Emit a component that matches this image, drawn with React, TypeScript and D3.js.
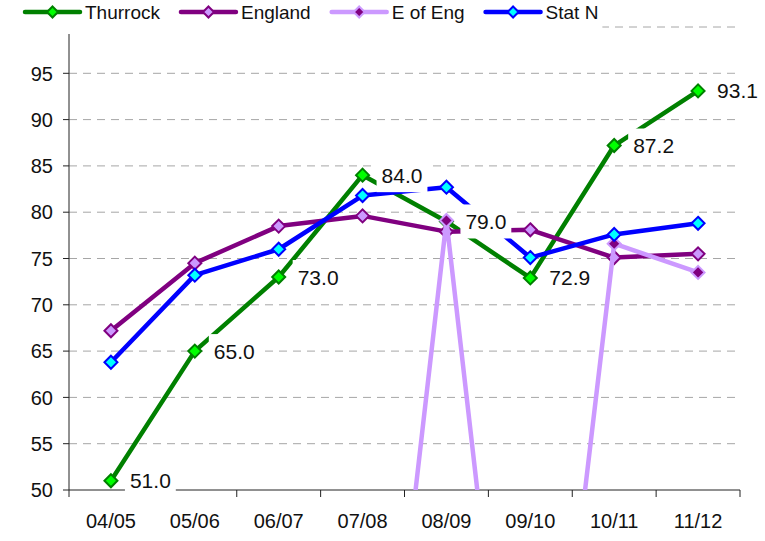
import * as d3 from "d3";

const categories = ["04/05", "05/06", "06/07", "07/08", "08/09", "09/10", "10/11", "11/12"];

const thurrock = [51.0, 65.0, 73.0, 84.0, 79.0, 72.9, 87.2, 93.1];
const england = [67.2, 74.5, 78.5, 79.6, 77.9, 78.1, 75.1, 75.5];
const eOfEng = [0, 0, 0, 0, 79.1, 0, 76.6, 73.5];
const statN = [63.8, 73.2, 76.0, 81.8, 82.7, 75.1, 77.6, 78.8];

const yTicks = [50, 55, 60, 65, 70, 75, 80, 85, 90, 95, 100];

type Series = {
  name: string;
  values: number[];
  line: string;
  fill: string;
  stroke: string;
};

const SERIES: Series[] = [
  { name: "Thurrock", values: thurrock, line: "#008000", fill: "#00FF00", stroke: "#008000" },
  { name: "England", values: england, line: "#800080", fill: "#CC99FF", stroke: "#800080" },
  { name: "E of Eng", values: eOfEng, line: "#CC99FF", fill: "#800080", stroke: "#CC99FF" },
  { name: "Stat N", values: statN, line: "#0000FF", fill: "#00FFFF", stroke: "#0000FF" },
];

const FONT = "'Liberation Sans', Arial, sans-serif";

const PLOT = { left: 69, right: 740, top: 27, bottom: 490 };

const LEGEND = {
  x: 25,
  y: 12,
  lineLen: 55,
  textGap: 5,
  itemGap: 21,
  fontSize: 19,
};

const LABEL = { fontSize: 21, dx: 14, padX: 5, height: 34 };

let ctx: CanvasRenderingContext2D | null = null;
function textWidth(s: string, size: number): number {
  if (!ctx) ctx = document.createElement("canvas").getContext("2d");
  if (!ctx) return s.length * size * 0.55;
  ctx.font = `${size}px 'Liberation Sans', Arial, sans-serif`;
  return ctx.measureText(s).width;
}

function diamond(r: number): string {
  return `M0,${-r}L${r},0L0,${r}L${-r},0Z`;
}

export default function App() {
  const x = d3.scaleBand<string>().domain(categories).range([PLOT.left, PLOT.right]);
  const y = d3.scaleLinear().domain([50, 100]).range([PLOT.bottom, PLOT.top]);
  const cx = (c: string) => (x(c) ?? 0) + x.bandwidth() / 2;

  const lineGen = d3
    .line<number>()
    .x((_, i) => cx(categories[i]))
    .y((d) => y(d));

  // legend item positions, based on text widths
  const legendItems: { s: Series; x: number }[] = [];
  let lx = LEGEND.x;
  for (const s of SERIES) {
    legendItems.push({ s, x: lx });
    lx += LEGEND.lineLen + LEGEND.textGap + textWidth(s.name, LEGEND.fontSize) + LEGEND.itemGap;
  }
  const legendRight = lx - LEGEND.itemGap + 4;

  return (
    <div style={{ position: "absolute", left: 0, top: 0 }}>
      <svg width={765} height={541} style={{ display: "block", background: "#fff" }}>
        <defs>
          <clipPath id="plot-clip">
            <rect
              x={PLOT.left}
              y={PLOT.top - 8}
              width={PLOT.right - PLOT.left + 8}
              height={PLOT.bottom - PLOT.top + 8}
            />
          </clipPath>
          <clipPath id="plot-clip-lines">
            <rect x={PLOT.left} y={PLOT.top - 8} width={PLOT.right - PLOT.left + 8} height={PLOT.bottom - PLOT.top + 8} />
          </clipPath>
        </defs>

        {/* gridlines */}
        {yTicks
          .filter((t) => t !== 50)
          .map((t) => (
            <line
              key={`g${t}`}
              x1={PLOT.left}
              x2={PLOT.right}
              y1={y(t)}
              y2={y(t)}
              stroke="#A6A6A6"
              strokeWidth={1}
              strokeDasharray="8,6"
            />
          ))}

        {/* axes */}
        <line x1={PLOT.left} x2={PLOT.left} y1={PLOT.top} y2={PLOT.bottom} stroke="#222" />
        <line x1={PLOT.left} x2={PLOT.right} y1={PLOT.bottom} y2={PLOT.bottom} stroke="#222" />
        {yTicks.map((t) => (
          <g key={`yt${t}`}>
            <line x1={PLOT.left - 6} x2={PLOT.left} y1={y(t)} y2={y(t)} stroke="#222" />
            <text
              x={PLOT.left - 16}
              y={y(t) + 7.2}
              textAnchor="end"
              fontFamily={FONT}
              fontSize={20}
              fill="#111"
            >
              {t}
            </text>
          </g>
        ))}
        {[...categories.map((c) => x(c) ?? 0), PLOT.right].map((tx, i) => (
          <line key={`xt${i}`} x1={tx} x2={tx} y1={PLOT.bottom} y2={PLOT.bottom + 7} stroke="#222" />
        ))}
        {categories.map((c) => (
          <text
            key={`xl${c}`}
            x={cx(c)}
            y={528}
            textAnchor="middle"
            fontFamily={FONT}
            fontSize={20}
            fill="#111"
          >
            {c}
          </text>
        ))}

        {/* series */}
        <g clipPath="url(#plot-clip)">
          {SERIES.map((s) => (
            <g key={s.name}>
              <path
                d={lineGen(s.values) ?? ""}
                fill="none"
                stroke={s.line}
                strokeWidth={4.5}
                strokeLinejoin="round"
              />
              {s.values.map((v, i) => (
                <path
                  key={i}
                  d={diamond(6.5)}
                  transform={`translate(${cx(categories[i])},${y(v)})`}
                  fill={s.fill}
                  stroke={s.stroke}
                  strokeWidth={2}
                />
              ))}
            </g>
          ))}
        </g>

        {/* Thurrock data labels with white boxes */}
        {thurrock.map((v, i) => {
          const label = v.toFixed(1);
          const w = textWidth(label, LABEL.fontSize);
          const bx = cx(categories[i]) + LABEL.dx;
          const by = y(v);
          return (
            <g key={`lab${i}`}>
              <rect
                x={bx}
                y={by - LABEL.height / 2}
                width={w + LABEL.padX * 2}
                height={LABEL.height}
                fill="#fff"
              />
              <text
                x={bx + LABEL.padX}
                y={by + LABEL.fontSize * 0.358}
                fontFamily={FONT}
                fontSize={LABEL.fontSize}
                fill="#111"
              >
                {label}
              </text>
            </g>
          );
        })}

        {/* legend */}
        <rect x={15} y={0} width={legendRight - 15} height={34} fill="#fff" />
        {legendItems.map(({ s, x: ix }) => (
          <g key={`leg${s.name}`}>
            <line
              x1={ix}
              x2={ix + LEGEND.lineLen}
              y1={LEGEND.y}
              y2={LEGEND.y}
              stroke={s.line}
              strokeWidth={4.5}
              strokeLinecap="round"
            />
            <path
              d={diamond(5.5)}
              transform={`translate(${ix + LEGEND.lineLen / 2},${LEGEND.y})`}
              fill={s.fill}
              stroke={s.stroke}
              strokeWidth={2}
            />
            <text
              x={ix + LEGEND.lineLen + LEGEND.textGap}
              y={LEGEND.y + 7}
              fontFamily={FONT}
              fontSize={LEGEND.fontSize}
              fill="#111"
            >
              {s.name}
            </text>
          </g>
        ))}
      </svg>
    </div>
  );
}
